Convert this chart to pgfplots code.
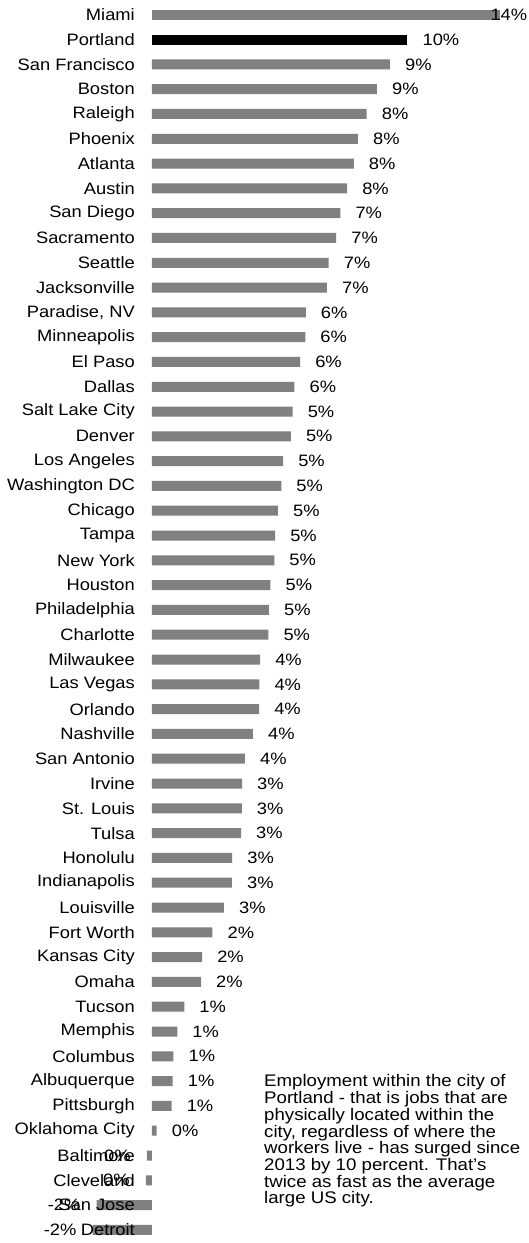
\documentclass[border=0pt]{standalone}
\usepackage{pgfplots}
\pgfplotsset{compat=1.18}
\usepackage{pgfplotstable}
\usepackage{fontspec}
\setmainfont{Liberation Sans}[FakeStretch=1.11]
\definecolor{barg}{HTML}{808080}
\newcommand{\lbl}{\fontsize{16.5bp}{19bp}\selectfont}

\pgfplotstableread{
y x lab
2 9.22 9
3 8.72 9
4 8.32 8
5 7.98 8
6 7.82 8
7 7.56 8
8 7.30 7
9 7.14 7
10 6.85 7
11 6.78 7
12 5.96 6
13 5.94 6
14 5.74 6
15 5.52 6
16 5.45 5
17 5.38 5
18 5.08 5
19 5.01 5
20 4.88 5
21 4.77 5
22 4.74 5
23 4.59 5
24 4.53 5
25 4.51 5
26 4.19 4
27 4.16 4
28 4.15 4
29 3.91 4
30 3.60 4
31 3.49 3
32 3.48 3
33 3.45 3
34 3.11 3
35 3.10 3
36 2.79 3
37 2.34 2
38 1.94 2
39 1.90 2
40 1.25 1
41 0.98 1
42 0.83 1
43 0.80 1
44 0.76 1
45 0.18 0
}\pos
\pgfplotstableread{
y x lab
1 9.90 10
}\port
\pgfplotstableread{
y x lab
0 13.50 14
}\miami
\pgfplotstableread{
y x lab
46 -0.20 0
47 -0.24 0
48 -2.15 -2
49 -2.30 -2
}\negs

\begin{document}
\begin{tikzpicture}
\begin{axis}[
  at={(0,0)}, anchor=south west, scale only axis,
  width=430.86bp, height=1240bp,
  xmin=-2.5, xmax=14.2, ymin=-0.5, ymax=49.5, y dir=reverse,
  xbar, bar shift=0pt, bar width=10bp,
  axis line style={draw=none},
  xtick=\empty,
  ytick={0,...,49},
  yticklabels={Miami, Portland, San Francisco, Boston, Raleigh, Phoenix, Atlanta, Austin, San Diego, Sacramento, Seattle, Jacksonville, {Paradise, NV}, Minneapolis, El Paso, Dallas, Salt Lake City, Denver, Los Angeles, Washington DC, Chicago, Tampa, New York, Houston, Philadelphia, Charlotte, Milwaukee, Las Vegas, Orlando, Nashville, San Antonio, Irvine, St. Louis, Tulsa, Honolulu, Indianapolis, Louisville, Fort Worth, Kansas City, Omaha, Tucson, Memphis, Columbus, Albuquerque, Pittsburgh, Oklahoma City, Baltimore, Cleveland, San Jose, Detroit},
  major tick length=0pt,
  yticklabel style={anchor=east, inner sep=0pt, xshift=47.5bp, font=\lbl},
  axis on top, clip=false,
  point meta=explicit symbolic,
  nodes near coords={\pgfplotspointmeta\%},
  every node near coord/.append style={font=\lbl, inner sep=0pt, text=black},
]
\addplot[fill=barg, draw=none, nodes near coords style={anchor=west, xshift=15bp}]
  table[x=x, y=y, meta=lab]{\pos};
\addplot[fill=black, draw=none, nodes near coords style={anchor=west, xshift=15bp}]
  table[x=x, y=y, meta=lab]{\port};
\addplot[fill=barg, draw=none, nodes near coords style={anchor=west, xshift=-10bp}]
  table[x=x, y=y, meta=lab]{\miami};
\addplot[fill=barg, draw=none, nodes near coords style={anchor=east, xshift=-16bp}]
  table[x=x, y=y, meta=lab]{\negs};
\end{axis}
\node[anchor=north west, inner sep=0pt, align=left, font=\fontsize{16.8bp}{16.7bp}\selectfont]
  at (176.5bp,167.7bp) {Employment within the city of\\Portland - that is jobs that are\\physically located within the\\city, regardless of where the\\workers live - has surged since\\2013 by 10 percent. That’s\\twice as fast as the average\\large US city.};
\pgfresetboundingbox
\useasboundingbox (-87.5bp,-0.7bp) rectangle (441.5bp,1242.3bp);
\end{tikzpicture}
\end{document}
